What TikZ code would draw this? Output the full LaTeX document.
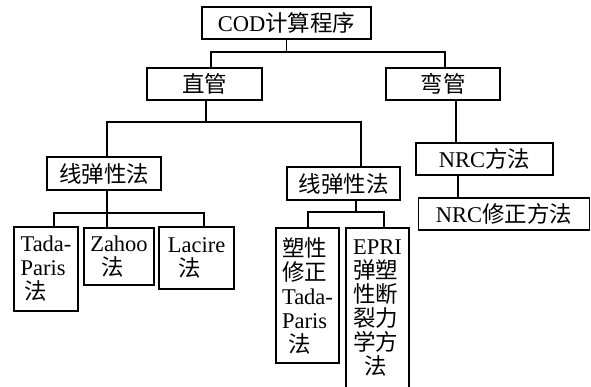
\documentclass[tikz,border=0pt]{standalone}
\usepackage{fontspec}
\setmainfont{Liberation Serif}
\newfontfamily\cjkfont{Noto Sans CJK SC}
\newcommand\zh[1]{{\cjkfont #1}}
\begin{document}
\begin{tikzpicture}[x=1pt,y=-1pt,
  box/.style={draw,line width=1.2pt,inner sep=0pt,align=left,
    font={\fontsize{22.5pt}{24pt}\selectfont}},
  link/.style={line width=1.1pt}]
\useasboundingbox (0,0) rectangle (591,387);
% level 0-1
\node[box,minimum width=169pt,minimum height=32pt] (cod) at (286.5,23) {COD\zh{计算程序}};
\node[box,minimum width=115pt,minimum height=32pt] (zg) at (204.5,84) {\zh{直管}};
\node[box,minimum width=114pt,minimum height=32pt] (wg) at (443,84) {\zh{弯管}};
% level 2
\node[box,minimum width=114pt,minimum height=33pt] (l1) at (104,173.5) {\zh{线弹性法}};
\node[box,minimum width=113pt,minimum height=33pt] (l2) at (343.5,183.5) {\zh{线弹性法}};
\node[box,minimum width=137pt,minimum height=32pt] (nrc) at (484.5,159) {NRC\zh{方法}};
\node[box,minimum width=171pt,minimum height=32pt] (nrcx) at (504,214) {NRC\zh{修正方法}};
% level 3
\node[box,minimum width=64pt,minimum height=84pt] (tada) at (46,269) {Tada-\\Paris\\\hspace*{4pt}\zh{法}};
\node[box,minimum width=70pt,minimum height=57pt] (zahoo) at (119,256.5) {Zahoo\\\hspace*{11pt}\zh{法}};
\node[box,minimum width=75pt,minimum height=62pt] (lacire) at (196.5,258) {Lacire\\\hspace*{11pt}\zh{法}};
\node[box,minimum width=63pt,minimum height=135pt] (sx) at (307.5,295.5) {\zh{塑性}\\\zh{修正}\\Tada-\\Paris\\\hspace*{6pt}\zh{法}};
\node[box,minimum width=63pt,minimum height=161pt] (epri) at (377.5,308.5) {EPRI\\\zh{弹塑}\\\zh{性断}\\\zh{裂力}\\\zh{学方}\\\hspace*{11pt}\zh{法}};
% bus coordinates
\coordinate (b1) at (0,52);
\coordinate (b2) at (0,122);
\coordinate (b3) at (0,213);
\coordinate (b4) at (0,212);
% connectors
\draw[link] (cod.south) -- (cod.south |- b1);
\draw[link] ([xshift=6.5pt]zg.north) |- ([xshift=2pt]wg.north |- b1) -- ([xshift=2pt]wg.north);
\draw[link] ([xshift=1.5pt]zg.south) -- ([xshift=1.5pt]zg.south |- b2);
\draw[link] ([xshift=3pt]l1.north) |- ([xshift=17.5pt]l2.north |- b2) -- ([xshift=17.5pt]l2.north);
\draw[link] ([xshift=13pt]wg.south) -- ([xshift=13pt]wg.south |- nrc.north);
\draw[link] ([xshift=-26.5pt]nrc.south) -- ([xshift=-26.5pt]nrc.south |- nrcx.north);
\draw[link] ([xshift=3pt]l1.south) -- ([xshift=3pt]l1.south |- b3);
\draw[link] ([xshift=8pt]tada.north) |- ([xshift=7.5pt]lacire.north |- b3) -- ([xshift=7.5pt]lacire.north);
\draw[link] ([xshift=-12pt]zahoo.north) -- ([xshift=-12pt]zahoo.north |- b3);
\draw[link] ([xshift=12.5pt]l2.south) -- ([xshift=12.5pt]l2.south |- b4);
\draw[link] ([xshift=0.5pt]sx.north) |- ([xshift=6.5pt]epri.north |- b4) -- ([xshift=6.5pt]epri.north);
\end{tikzpicture}
\end{document}
